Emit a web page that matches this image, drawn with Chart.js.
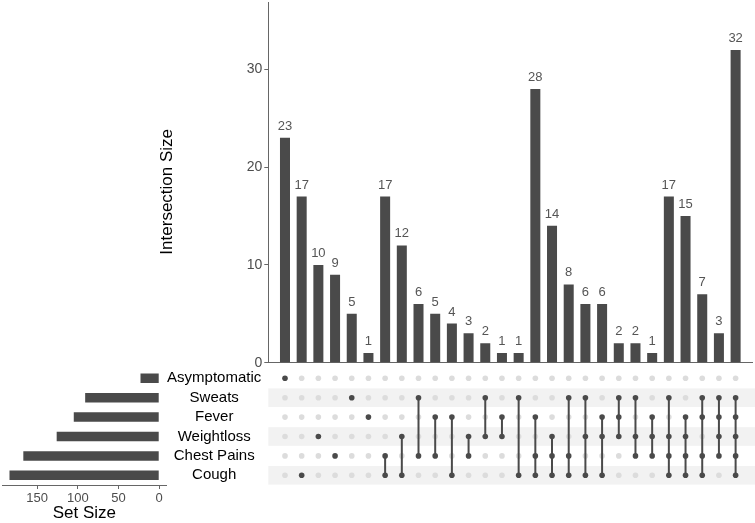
<!DOCTYPE html>
<html>
<head>
<meta charset="utf-8">
<script src="https://cdn.jsdelivr.net/npm/chart.js@4.4.0/dist/chart.umd.min.js"></script>
<style>
  html, body { margin: 0; padding: 0; background: #fff; }
  #wrap { position: relative; width: 755px; height: 523px; overflow: hidden; }
  canvas { position: absolute; }
  #bars { left: 150px; top: 0; }
  #matrix { left: 162px; top: 366px; }
  #sets { left: 0; top: 366px; }
</style>
</head>
<body>
<div id="wrap">
  <canvas id="sets" width="170" height="158"></canvas>
  <canvas id="matrix" width="593" height="122"></canvas>
  <canvas id="bars" width="605" height="372"></canvas>
</div>
<script>
// sets, top to bottom in the matrix
const sets = ['Asymptomatic', 'Sweats', 'Fever', 'Weightloss', 'Chest Pains', 'Cough'];
const setSizes = [23, 91, 105, 126, 167, 184];

// intersections, left to right
const intersectionSizes = [23, 17, 10, 9, 5, 1, 17, 12, 6, 5, 4, 3, 2, 1, 1, 28, 14, 8, 6, 6, 2, 2, 1, 17, 15, 7, 3, 32];
const intersectionSets = [
  ['Asymptomatic'],
  ['Cough'],
  ['Weightloss'],
  ['Chest Pains'],
  ['Sweats'],
  ['Fever'],
  ['Chest Pains', 'Cough'],
  ['Weightloss', 'Cough'],
  ['Sweats', 'Chest Pains'],
  ['Fever', 'Chest Pains'],
  ['Fever', 'Cough'],
  ['Weightloss', 'Chest Pains'],
  ['Sweats', 'Weightloss'],
  ['Fever', 'Weightloss'],
  ['Sweats', 'Cough'],
  ['Fever', 'Chest Pains', 'Cough'],
  ['Weightloss', 'Chest Pains', 'Cough'],
  ['Sweats', 'Chest Pains', 'Cough'],
  ['Sweats', 'Weightloss', 'Cough'],
  ['Fever', 'Weightloss', 'Cough'],
  ['Sweats', 'Fever', 'Weightloss'],
  ['Sweats', 'Weightloss', 'Chest Pains'],
  ['Fever', 'Weightloss', 'Chest Pains'],
  ['Sweats', 'Weightloss', 'Chest Pains', 'Cough'],
  ['Fever', 'Weightloss', 'Chest Pains', 'Cough'],
  ['Sweats', 'Fever', 'Chest Pains', 'Cough'],
  ['Sweats', 'Fever', 'Weightloss', 'Chest Pains'],
  ['Sweats', 'Fever', 'Weightloss', 'Chest Pains', 'Cough']
];

const intersectionTicks = [0, 10, 20, 30];
const setSizeTicks = [0, 50, 100, 150];

const FONT = "'Liberation Sans', Arial, Helvetica, sans-serif";
const DARK = '#4a4a4a';
const LIGHT = '#dcdcdc';
const AXIS = '#666666';
const TICK_TEXT = '#4d4d4d';

Chart.defaults.font.family = FONT;
Chart.defaults.animation = false;
Chart.defaults.layout.autoPadding = false;
Chart.defaults.plugins.legend.display = false;
Chart.defaults.plugins.tooltip.enabled = false;

// fixed axis box sizes, and no extra room for half labels
function fixAxis(size) {
  return s => {
    if (s.isHorizontal()) s.height = size; else s.width = size;
    s.paddingTop = 0;
    s.paddingBottom = 0;
    s.paddingLeft = 0;
    s.paddingRight = 0;
  };
}

// numbers above the intersection bars
const barLabels = {
  id: 'barLabels',
  afterDatasetsDraw(chart) {
    const ctx = chart.ctx;
    ctx.save();
    ctx.font = '13px ' + FONT;
    ctx.fillStyle = '#555555';
    ctx.textAlign = 'center';
    ctx.textBaseline = 'alphabetic';
    chart.getDatasetMeta(0).data.forEach((bar, i) => {
      ctx.fillText(String(intersectionSizes[i]), bar.x, bar.y - 8);
    });
    ctx.restore();
  }
};

// Intersection size bars
new Chart(document.getElementById('bars'), {
  type: 'bar',
  data: {
    datasets: [{
      data: intersectionSizes.map((v, i) => ({ x: i + 1, y: v })),
      backgroundColor: DARK,
      borderWidth: 0,
      categoryPercentage: 1,
      barPercentage: 0.6
    }]
  },
  options: {
    responsive: false,
    devicePixelRatio: 1,
    layout: { autoPadding: false, padding: { top: 2, right: 2.7, bottom: 0, left: 0 } },
    scales: {
      x: {
        type: 'linear',
        min: 0,
        max: 29,
        offset: false,
        ticks: { display: false },
        grid: { display: false },
        border: { display: true, color: AXIS, width: 1 },
        afterFit: fixAxis(9.3)
      },
      y: {
        min: 0,
        max: 36.9,
        afterBuildTicks: s => { s.ticks = intersectionTicks.map(v => ({ value: v })); },
        ticks: { color: TICK_TEXT, font: { size: 14 }, padding: 2 },
        grid: { drawOnChartArea: false, color: AXIS, tickLength: 4 },
        border: { color: AXIS, width: 1 },
        title: {
          display: true,
          text: 'Intersection Size    ',
          color: '#000',
          font: { size: 17 },
          padding: { top: 7, bottom: 0 }
        },
        afterFit: fixAxis(118.3)
      }
    }
  },
  plugins: [barLabels]
});

// light stripes behind every second matrix row
const stripes = {
  id: 'stripes',
  beforeDatasetsDraw(chart) {
    const { ctx, chartArea, scales } = chart;
    const band = scales.y.getPixelForValue(1) - scales.y.getPixelForValue(0);
    ctx.save();
    ctx.fillStyle = '#f2f2f2';
    sets.forEach((s, i) => {
      if (i % 2 === 1) {
        const y = scales.y.getPixelForValue(i);
        ctx.fillRect(chartArea.left, y - band * 0.48, chart.width - chartArea.left, band * 0.96);
      }
    });
    ctx.restore();
  }
};

const activePoints = [];
const inactivePoints = [];
const connectors = [];
intersectionSets.forEach((members, i) => {
  const col = i + 1;
  sets.forEach(s => {
    (members.includes(s) ? activePoints : inactivePoints).push({ x: col, y: s });
  });
  if (members.length > 1) {
    const idx = members.map(m => sets.indexOf(m));
    connectors.push({
      type: 'line',
      data: [
        { x: col, y: sets[Math.min(...idx)] },
        { x: col, y: sets[Math.max(...idx)] }
      ],
      borderColor: DARK,
      borderWidth: 2,
      pointRadius: 0,
      showLine: true,
      order: 2
    });
  }
});

// Membership matrix
new Chart(document.getElementById('matrix'), {
  type: 'scatter',
  data: {
    datasets: [
      { data: activePoints, backgroundColor: DARK, borderWidth: 0, pointRadius: 2.8, order: 1 },
      ...connectors,
      { data: inactivePoints, backgroundColor: LIGHT, borderWidth: 0, pointRadius: 2.8, order: 3 }
    ]
  },
  options: {
    responsive: false,
    devicePixelRatio: 1,
    layout: { autoPadding: false, padding: { top: 2.6, right: 2.7, bottom: 3, left: 0 } },
    scales: {
      x: { type: 'linear', min: 0, max: 29, display: false },
      y: {
        type: 'category',
        labels: sets,
        offset: true,
        ticks: { color: '#000', font: { size: 15 }, crossAlign: 'center', padding: 7, autoSkip: false },
        grid: { display: false, drawTicks: false },
        border: { display: false },
        afterFit: fixAxis(106.3)
      }
    }
  },
  plugins: [stripes]
});

// Set size bars
new Chart(document.getElementById('sets'), {
  type: 'bar',
  data: {
    labels: sets,
    datasets: [{
      data: setSizes,
      backgroundColor: DARK,
      borderWidth: 0,
      categoryPercentage: 1,
      barPercentage: 0.49
    }]
  },
  options: {
    indexAxis: 'y',
    responsive: false,
    devicePixelRatio: 1,
    layout: { autoPadding: false, padding: { top: 2.6, right: 3.3, bottom: 0, left: 2 } },
    scales: {
      y: { display: false, offset: true },
      x: {
        reverse: true,
        min: -9.2,
        max: 193.2,
        afterBuildTicks: s => { s.ticks = setSizeTicks.map(v => ({ value: v })); },
        ticks: { color: TICK_TEXT, font: { size: 13 }, padding: 2 },
        grid: { drawOnChartArea: false, color: AXIS, tickLength: 4 },
        border: { color: AXIS, width: 1 },
        title: {
          display: true,
          text: 'Set Size',
          color: '#000',
          font: { size: 17 },
          padding: { top: 0, bottom: 0 }
        },
        afterFit: fixAxis(39)
      }
    }
  }
});
</script>
</body>
</html>
